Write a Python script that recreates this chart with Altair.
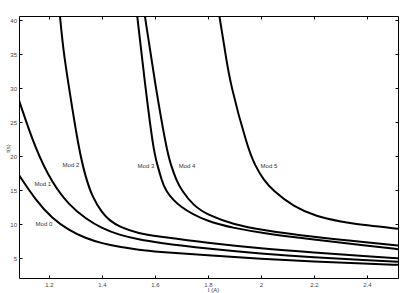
import altair as alt
import pandas as pd

# ---- data ----
mod0_x = [1.087, 1.15, 1.2125, 1.2755, 1.338, 1.401, 1.464, 1.543, 1.6, 1.8, 2.0, 2.2, 2.4, 2.517]
mod0_t = [17.2, 13.5, 10.8, 9.1, 7.9, 7.15, 6.65, 6.18, 5.95, 5.4, 4.9, 4.45, 4.15, 4.0]

mod1_x = [1.087, 1.15, 1.2125, 1.2755, 1.338, 1.401, 1.464, 1.543, 1.6, 1.8, 2.0, 2.2, 2.4, 2.517]
mod1_t = [28.2, 20.9, 16.0, 12.8, 10.8, 9.35, 8.4, 7.7, 7.3, 6.35, 5.65, 5.1, 4.7, 4.45]

mod2_x = [1.2415, 1.254, 1.273, 1.313, 1.338, 1.363, 1.401, 1.43, 1.464, 1.543, 1.6, 1.8, 2.0, 2.2, 2.4, 2.517]
mod2_t = [40.6, 35.6, 30.7, 20.9, 16.95, 14.0, 11.6, 10.5, 9.6, 8.55, 8.25, 7.2, 6.4, 5.8, 5.25, 4.95]

mod3_x = [1.533, 1.562, 1.594, 1.609, 1.625, 1.638, 1.69, 1.8, 1.9, 2.0, 2.2, 2.4, 2.517]
mod3_t = [40.6, 30.7, 20.9, 18.7, 16.5, 15.0, 12.5, 10.3, 9.4, 8.7, 7.7, 6.8, 6.3]

mod4_x = [1.562, 1.6, 1.644, 1.66, 1.68, 1.70, 1.745, 1.8, 1.9, 2.0, 2.2, 2.4, 2.517]
mod4_t = [40.6, 30.7, 20.9, 18.7, 16.5, 15.0, 12.7, 11.3, 9.9, 9.15, 8.1, 7.3, 6.85]

mod5_x = [1.843, 1.864, 1.883, 1.952, 1.977, 2.009, 2.046, 2.122, 2.21, 2.3, 2.4, 2.517]
mod5_t = [40.6, 35.6, 30.7, 20.9, 18.7, 16.5, 14.9, 12.55, 11.1, 10.35, 9.8, 9.3]

label_text = ["Mod 0", "Mod 1", "Mod 2", "Mod 3", "Mod 4", "Mod 5"]
label_x = [1.181, 1.177, 1.283, 1.566, 1.721, 2.03]
label_t = [10.0, 15.85, 18.7, 18.6, 18.6, 18.6]

x_ticks = [1.2, 1.4, 1.6, 1.8, 2.0, 2.2, 2.4]
y_ticks = [5, 10, 15, 20, 25, 30, 35, 40]
x_domain = [1.087, 2.517]
y_domain = [2.06, 40.6]

# ---- build tables ----
rows = []
for name, xs, ts in [("Mod 0", mod0_x, mod0_t), ("Mod 1", mod1_x, mod1_t),
                     ("Mod 2", mod2_x, mod2_t), ("Mod 3", mod3_x, mod3_t),
                     ("Mod 4", mod4_x, mod4_t), ("Mod 5", mod5_x, mod5_t)]:
    for i, (a, b) in enumerate(zip(xs, ts)):
        rows.append({"curve": name, "I": a, "t": b, "order": i})
df = pd.DataFrame(rows)
lab = pd.DataFrame({"label": label_text, "I": label_x, "t": label_t})

xs_ = alt.Scale(domain=x_domain, nice=False, zero=False)
ys_ = alt.Scale(domain=y_domain, nice=False, zero=False)

FONT = "Liberation Sans"
common = dict(tickSize=3, offset=-3, domain=False, tickColor="black",
              labelFont=FONT, labelFontSize=6, labelColor="#444", grid=False)

ax_bottom = alt.Axis(orient="bottom", values=x_ticks, format=".2~f", labelPadding=3,
                     title="I    (A)", titleFont=FONT, titleFontSize=6, titleFontWeight="normal",
                     titleColor="#444", titleX=194, titleY=11, titleBaseline="top", **common)
ax_left = alt.Axis(orient="left", values=y_ticks, labelPadding=2.5,
                   title="t(s)", titleFont=FONT, titleFontSize=6, titleFontWeight="normal",
                   titleColor="#444", titleX=-15, titleY=132, titleAlign="center",
                   titleAngle=-90, titleBaseline="middle", **common)
ax_top = alt.Axis(orient="top", values=x_ticks, labels=False, title=None, **common)
ax_right = alt.Axis(orient="right", values=y_ticks, labels=False, title=None, **common)

lines = alt.Chart(df).mark_line(color="black", strokeWidth=2, interpolate="basis", clip=True).encode(
    x=alt.X("I:Q", scale=xs_, axis=ax_bottom),
    y=alt.Y("t:Q", scale=ys_, axis=ax_left),
    detail="curve:N",
    order="order:Q",
)

labels = alt.Chart(lab).mark_text(font=FONT, fontSize=6, color="#333", align="center",
                                  baseline="middle").encode(
    x=alt.X("I:Q", scale=xs_, axis=ax_top),
    y=alt.Y("t:Q", scale=ys_, axis=ax_right),
    text="label:N",
)

chart = alt.layer(lines, labels).resolve_axis(x="independent", y="independent").properties(
    width=379, height=262,
    autosize=alt.AutoSizeParams(type="none"),
    padding={"left": 19, "top": 16, "right": 4, "bottom": 15},
    background="white",
).configure_view(stroke="black", strokeWidth=1)

chart.save("out.html", embed_options={"renderer": "svg", "actions": False})
